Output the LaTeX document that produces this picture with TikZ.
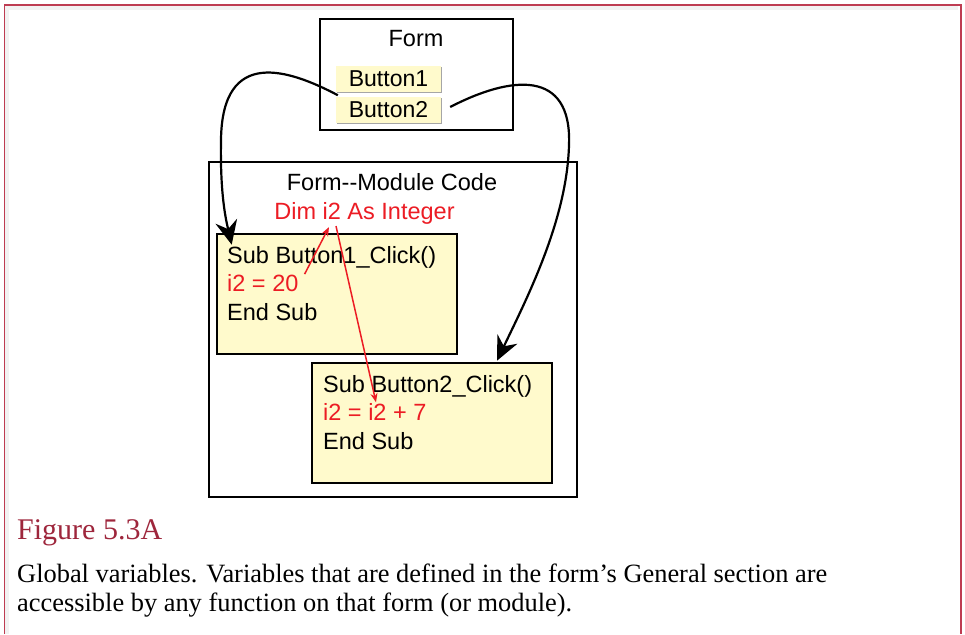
\documentclass[tikz,border=0pt]{standalone}
\usepackage{fontspec}
\setmainfont{Liberation Serif}
\setsansfont{Liberation Sans}
\usetikzlibrary{arrows.meta,calc}
\definecolor{pale}{RGB}{255,250,204}
\definecolor{codered}{RGB}{236,28,36}
\definecolor{framered}{RGB}{190,60,82}
\definecolor{captionred}{RGB}{158,38,60}
\begin{document}
\begin{tikzpicture}[x=1pt,y=-1pt,
  box/.style={draw=black, line width=2pt, inner sep=0pt},
  codebox/.style={draw=black, line width=2.6pt, fill=pale, inner sep=0pt,
    minimum width=240pt, minimum height=120pt},
  btn/.style={fill=pale, inner sep=0pt, minimum width=105pt, minimum height=26pt,
    font=\sffamily\fontsize{23}{27}\selectfont},
  btnshade/.style={black!35, line width=1pt},
  lbl/.style={font=\sffamily\fontsize{23.5}{28}\selectfont, inner sep=0pt},
  codeline/.style={lbl, anchor=base west},
  flow/.style={black, line width=2.2pt, -{Stealth[length=24pt,width=22pt,inset=8pt]}},
  ref/.style={codered, line width=1.5pt, -{Stealth[length=9pt,width=7pt]}},
  captext/.style={anchor=base west, inner sep=0pt, font=\fontsize{26.4}{29}\selectfont},
]
% page and outer frame
\fill[white] (0,0) rectangle (965,634);
\useasboundingbox (0,0) rectangle (965,634);
\draw[black!5, line width=4pt] (7,634) -- (7,8) -- (958,8);
\draw[framered, line width=1.4pt] (4.5,634) -- (4.5,5) -- (961,5) -- (961,634);

% the form with its two buttons
\node[box, minimum width=193pt, minimum height=111pt] (form) at (416.5,74.5) {};
\node[lbl, anchor=base] (formtitle) at (416,46.5) {Form};
\node[btn] (b1) at (388.5,79) {Button1};
\node[btn] (b2) at (388.5,110) {Button2};
\foreach \b in {b1,b2}
  \draw[btnshade] ($(\b.south west)+(1,0.5)$) -- ($(\b.south east)+(0.5,0.5)$) -- ($(\b.north east)+(0.5,1)$);

% module code
\node[box, minimum width=368pt, minimum height=335pt] (module) at (392.5,329.5) {};
\node[lbl, anchor=base] (modtitle) at (392,190.5) {Form-{}-Module Code};
\node[lbl, anchor=base, text=codered] (dim) at (364.5,219) {Dim i2 As Integer};

\node[codebox] (sub1) at (337,294) {};
\node[codeline] (s1a) at (227,263) {Sub Button1\_Click()};
\node[codeline, text=codered] (s1b) at (227,291.5) {i2 = 20};
\node[codeline] (s1c) at (227,320.5) {End Sub};

\node[codebox] (sub2) at (432,423) {};
\node[codeline] (s2a) at (323,392) {Sub Button2\_Click()};
\node[codeline, text=codered] (s2b) at (323,420.5) {i2 = i2 + 7};
\node[codeline] (s2c) at (323,449) {End Sub};

% event links from the buttons to their handlers
\draw[flow] ($(b1.south west)+(2,3)$) .. controls (290,70) and (222,46) .. (221,140)
  .. controls (220,195) and (226,220) .. ($(sub1.north west)+(16,12)$);
\draw[flow] ($(b2.east)+(9,-3)$) .. controls (510,76) and (572,68) .. (569,145)
  .. controls (567,220) and (527,298) .. ($(sub2.north)+(65,-1)$);

% uses of the shared variable
\draw[ref] ($(s1b.east)+(6,-9)$) -- ($(dim.south)+(-35.5,3)$);
\draw[ref] ($(dim.south)+(-28.5,2)$) -- ($(s2b.north west)+(53,-1)$);

% caption
\node[captext, text=captionred, font=\fontsize{30}{36}\selectfont] (fig) at (17,539) {Figure 5.3A};
\node[captext] (cap1) at (17,582) {Global variables. Variables that are defined in the form’s General section are};
\node[captext] (cap2) at (17,611) {accessible by any function on that form (or module).};
\end{tikzpicture}
\end{document}
